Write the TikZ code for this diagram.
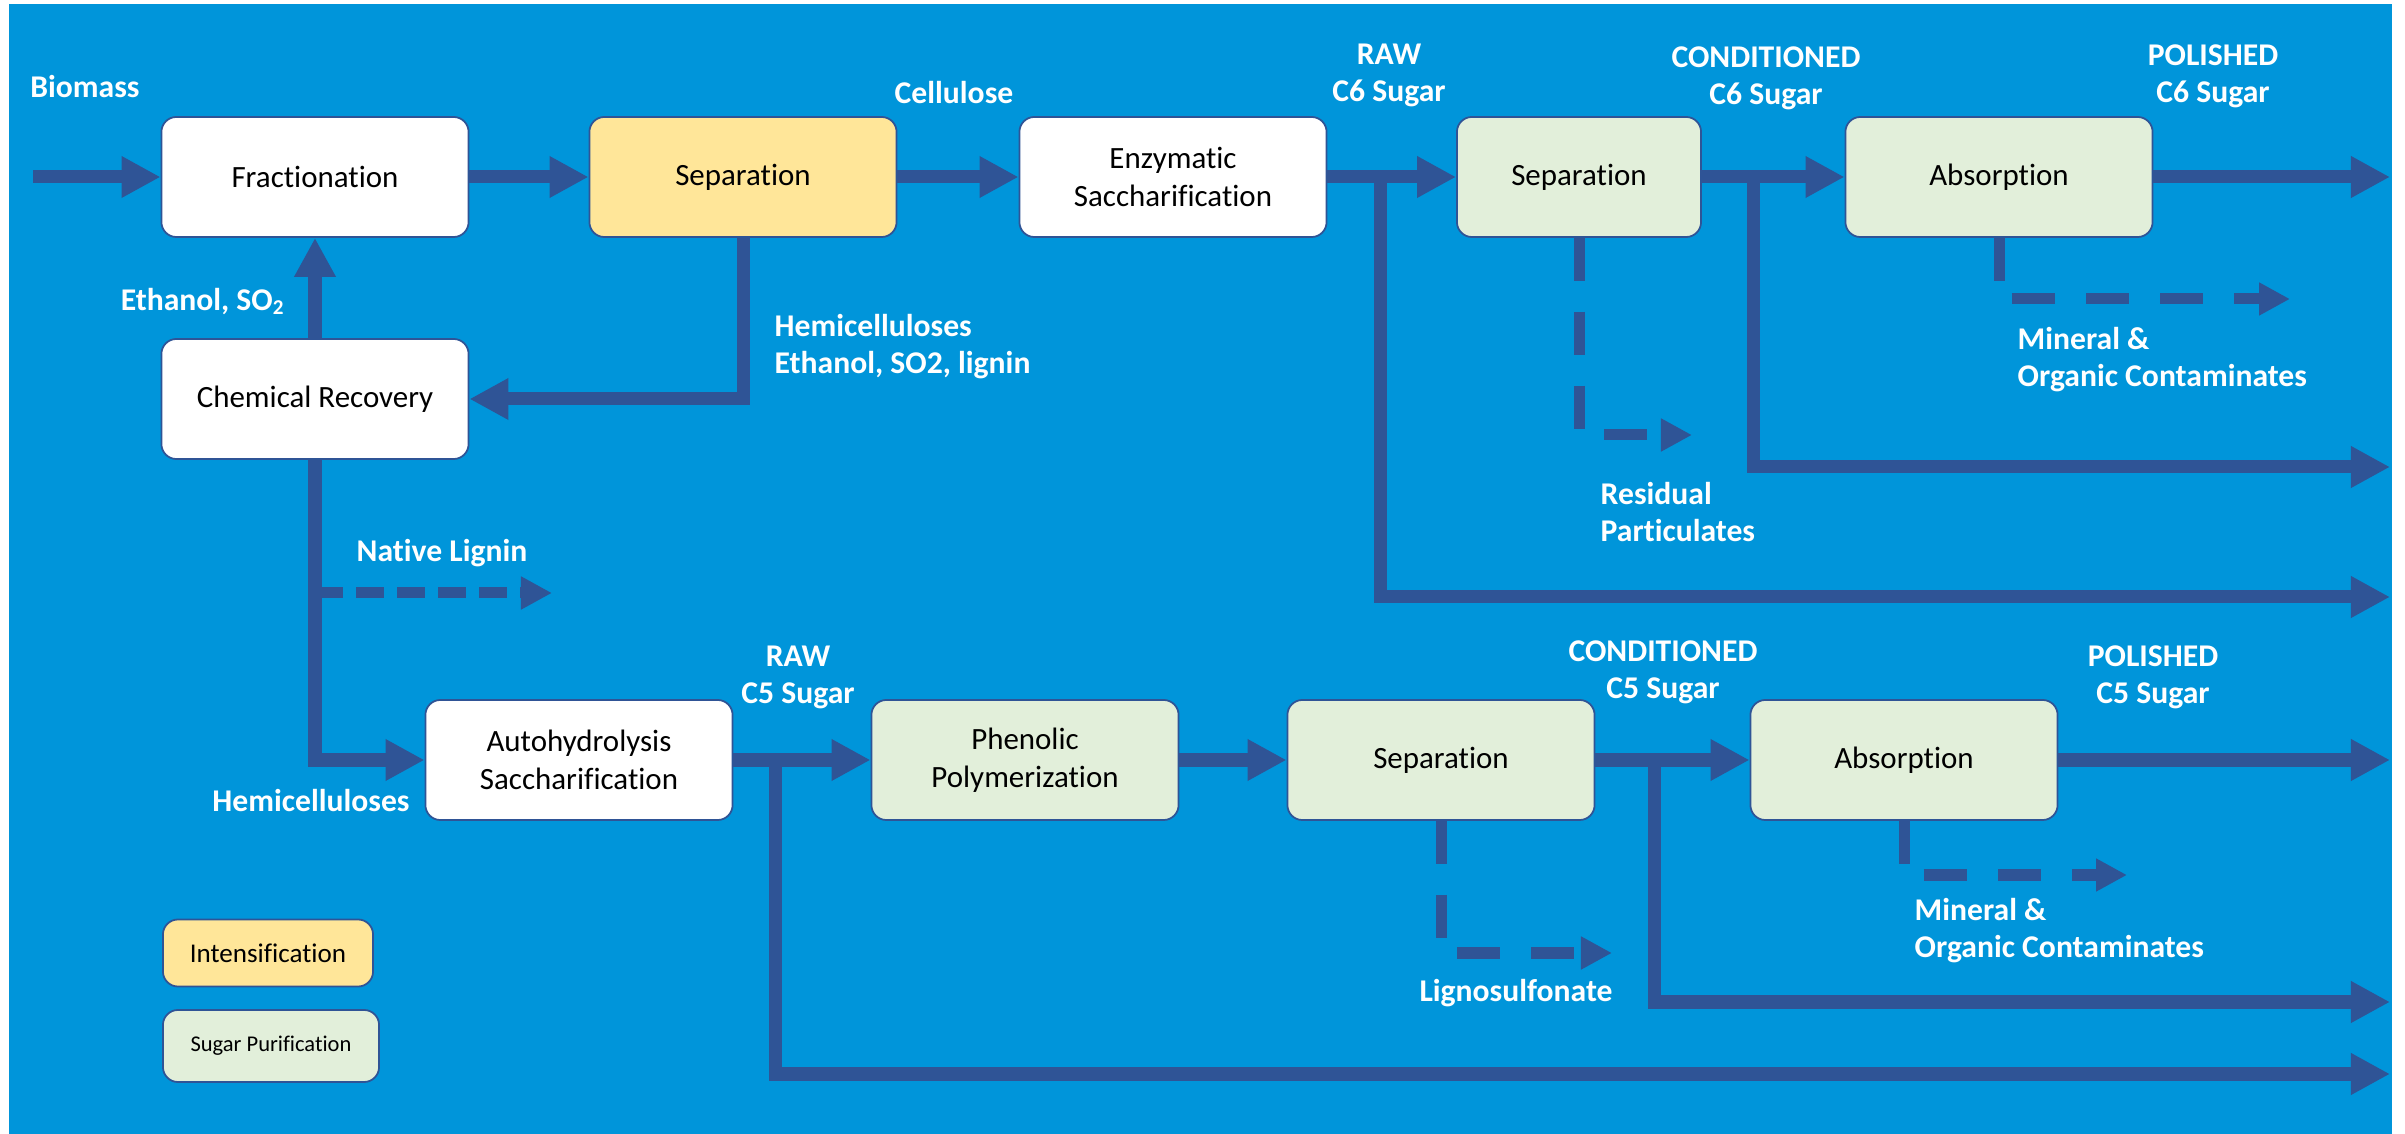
\documentclass[tikz,border=0pt]{standalone}
\usepackage{fontspec}
\setmainfont{Carlito}[Ligatures=NoCommon]
\usepackage{tikz}
\usetikzlibrary{arrows.meta}
\usetikzlibrary{positioning}
\definecolor{bgblue}{RGB}{0,149,218}
\definecolor{flowblue}{RGB}{47,84,150}
\definecolor{intyellow}{RGB}{255,230,153}
\definecolor{purgreen}{RGB}{226,239,218}

\begin{document}
\begin{tikzpicture}[x=0.01cm,y=-0.01cm]
  \tikzset{stage/.style = {shape=rectangle,draw=flowblue,line width=0.5pt,rounded corners=0.15cm,fill=white,minimum width=3.07cm,minimum height=1.2cm,align=center,inner sep=2pt,font=\fontsize{8.8}{10.8}\selectfont}}
    \tikzset{intstage/.style = {stage, fill=intyellow}}
    \tikzset{purstage/.style = {stage, fill=purgreen}}
  \tikzset{lab/.style = {text=white,font=\bfseries\fontsize{9}{10.5}\selectfont,align=center,inner sep=0pt}}
  \tikzset{flow/.style = {color=flowblue,line width=0.13cm,-tipA}}
  \tikzset{side/.style = {color=flowblue,line width=0.11cm,dash pattern=on 0.43cm off 0.31cm,-tipB}}
  \tikzset{%
  tipA/.tip={Triangle[length=0.39cm,width=0.39cm]},
  tipB/.tip={Triangle[length=0.31cm,width=0.31cm]},
}

  \useasboundingbox (0,0) rectangle (2405,1134);
  \fill[bgblue] (9,4) rectangle (2392,1134);

	\node[stage] (FR) at (315,177) {Fractionation};
	\node[intstage] (SI) at (743,177) {Separation};
	\node[stage] (ES) at (1173,177) {Enzymatic\\Saccharification};
	\node[purstage,minimum width=2.44cm] (S6) at (1579,177) {Separation};
	\node[purstage] (A6) at (1999,177) {Absorption};
	\node[stage] (CR) at (315,399) {Chemical Recovery};

	\node[stage] (AH) at (579,760) {Autohydrolysis\\Saccharification};
	\node[purstage] (PP) at (1025,760) {Phenolic\\Polymerization};
	\node[purstage] (S5) at (1441,760) {Separation};
	\node[purstage] (A5) at (1904,760) {Absorption};

	\node[intstage,minimum width=2.1cm,minimum height=0.67cm,font=\fontsize{7.7}{9}\selectfont] (LI) at (268,953) {Intensification};
	\node[purstage,minimum width=2.16cm,minimum height=0.72cm,font=\fontsize{6.4}{8}\selectfont] (LS) at (271,1046) {Sugar Purification};

	\coordinate (BI) at (33,177);
	\coordinate (J1) at (1380,177);
	\coordinate (J2) at (1753,177);
	\coordinate (J3) at (775,760);
	\coordinate (J4) at (1654,760);
	\coordinate (O1) at (2390,177);
	\coordinate (O2) at (2390,467);
	\coordinate (O3) at (2390,597);
	\coordinate (O4) at (2390,760);
	\coordinate (O5) at (2390,1002);
	\coordinate (O6) at (2390,1074);
	\coordinate (N0) at (315,593);
	\coordinate (N1) at (552,593);
	\coordinate (R6) at (1692,435);
	\coordinate (M6) at (2290,299);
	\coordinate (L5) at (1612,953);
	\coordinate (M5) at (2127,875);

    \foreach \from/\to in {BI/FR,FR/SI,SI/ES,ES/S6,S6/A6,A6/O1,CR/FR,AH/PP,PP/S5,S5/A5,A5/O4}
    \path[flow](\from) edge (\to);

    \foreach \from/\to in {J1/O3,J2/O2,J3/O6,J4/O5,SI.south/CR.east,CR.south/AH.west}
    \draw[flow](\from) |- (\to);

    \foreach \from/\to in {S6.south/R6,A6.south/M6,S5.south/L5,A5.south/M5}
    \draw[side](\from) |- (\to);
    \draw[side,dash pattern=on 0.28cm off 0.13cm] (N0) -- (N1);

	\node[lab] (LB) at (85,87) {Biomass};
	\node[lab] (LC) at (954,93) {Cellulose};
	\node[lab] (LE) at (203,302) {Ethanol, SO\textsubscript{2}};
	\node[lab,align=left,anchor=west] (LH) at (774,347) {Hemicelluloses\\Ethanol, SO2, lignin};
	\node[lab] (LN) at (442,553) {Native Lignin};
	\node[lab] (LH2) at (311,801) {Hemicelluloses};
	\node[lab] (LR6) at (1389,75) {RAW\\C6 Sugar};
	\node[lab] (LC6) at (1766,78) {CONDITIONED\\C6 Sugar};
	\node[lab] (LP6) at (2213,76) {POLISHED\\C6 Sugar};
	\node[lab,align=left,anchor=west] (LRP) at (1600,512) {Residual\\Particulates};
	\node[lab,align=left,anchor=west] (LM6) at (2017,360) {Mineral \&\\Organic Contaminates};
	\node[lab] (LR5) at (798,677) {RAW\\C5 Sugar};
	\node[lab] (LC5) at (1663,672) {CONDITIONED\\C5 Sugar};
	\node[lab] (LP5) at (2153,677) {POLISHED\\C5 Sugar};
	\node[lab] (LL) at (1516,993) {Lignosulfonate};
	\node[lab,align=left,anchor=west] (LM5) at (1914,931) {Mineral \&\\Organic Contaminates};

\end{tikzpicture}
\end{document}
